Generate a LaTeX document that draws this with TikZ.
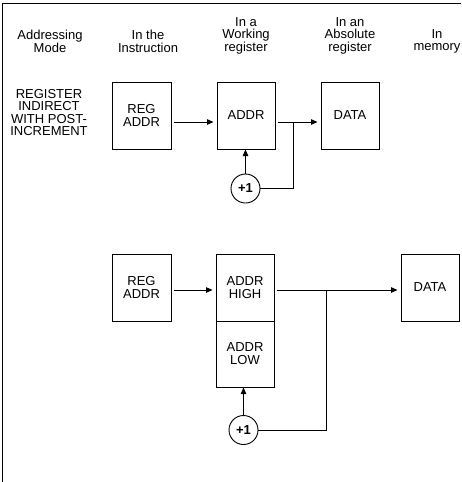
\documentclass[tikz,border=0pt]{standalone}
\usepackage{fontspec}
\setmainfont{Liberation Sans}
\usetikzlibrary{arrows.meta}
\begin{document}
\begin{tikzpicture}[x=1pt,y=-1pt,
  txt/.style={font=\fontsize{13}{12.6}\selectfont, align=center, inner sep=0pt},
  regbox/.style={draw, line width=1pt, minimum width=59pt, minimum height=67pt, inner sep=0pt, font=\fontsize{13}{13}\selectfont, align=center},
  inc/.style={draw, circle, line width=0.9pt, minimum size=29pt, inner sep=0pt, font=\bfseries\fontsize{13}{13}\selectfont},
  conn/.style={line width=0.8pt},
  arr/.style={conn, -{Triangle[length=6.5pt,width=5.5pt]}, shorten >=3pt, shorten <=2pt}]
\useasboundingbox (0,0) rectangle (461,482);
% frame
\draw[line width=1pt] (2,482) -- (2,3) -- (461,3);
% headers
\node[txt] (h1) at (50,41.5) {Addressing\\Mode};
\node[txt] (h2) at (148,41.5) {In the\\Instruction};
\node[txt] (h3) at (246,35.5) {In a\\Working\\register};
\node[txt] (h4) at (350,35.5) {In an\\Absolute\\register};
\node[txt] (h5) at (437,41.5) {In\\memory};
\node[txt] (mode) at (49,112.5) {REGISTER\\INDIRECT\\WITH POST-\\INCREMENT};
% upper row
\node[regbox] (reg1) at (141.5,115.5) {REG\\ADDR};
\node[regbox, minimum width=58pt] (addr1) at (246,115.5) {ADDR};
\node[regbox, minimum width=58pt] (data1) at (350,115.5) {DATA};
\node[inc] (one1) at (245.5,188.5) {+1};
\coordinate (y1) at (0,122);
\coordinate (b1) at (293,122);
\draw[arr] (reg1.east |- y1) -- (addr1.west |- y1);
\draw[arr] (addr1.east |- y1) -- (data1.west |- y1);
\draw[conn] (one1.east) -- (b1 |- one1.east) -- (b1);
\draw[arr, shorten >=0pt, shorten <=0pt] (one1.north) -- (one1.north |- addr1.south);
% lower row
\node[regbox] (reg2) at (141.5,287.5) {REG\\ADDR};
\node[regbox, minimum width=58pt] (high) at (245,287.5) {ADDR\\HIGH};
\node[regbox, minimum width=58pt, minimum height=66pt] (low) at (245,354) {ADDR\\LOW};
\node[regbox, minimum width=58pt] (data2) at (430,287.5) {DATA};
\node[inc] (one2) at (243.5,430) {+1};
\coordinate (y2) at (0,290);
\coordinate (b2) at (326,290);
\draw[arr] (reg2.east |- y2) -- (high.west |- y2);
\draw[arr] (high.east |- y2) -- (data2.west |- y2);
\draw[conn] (one2.east) -- (b2 |- one2.east) -- (b2);
\draw[arr, shorten >=0pt, shorten <=0pt] (one2.north) -- (one2.north |- low.south);
\end{tikzpicture}
\end{document}
